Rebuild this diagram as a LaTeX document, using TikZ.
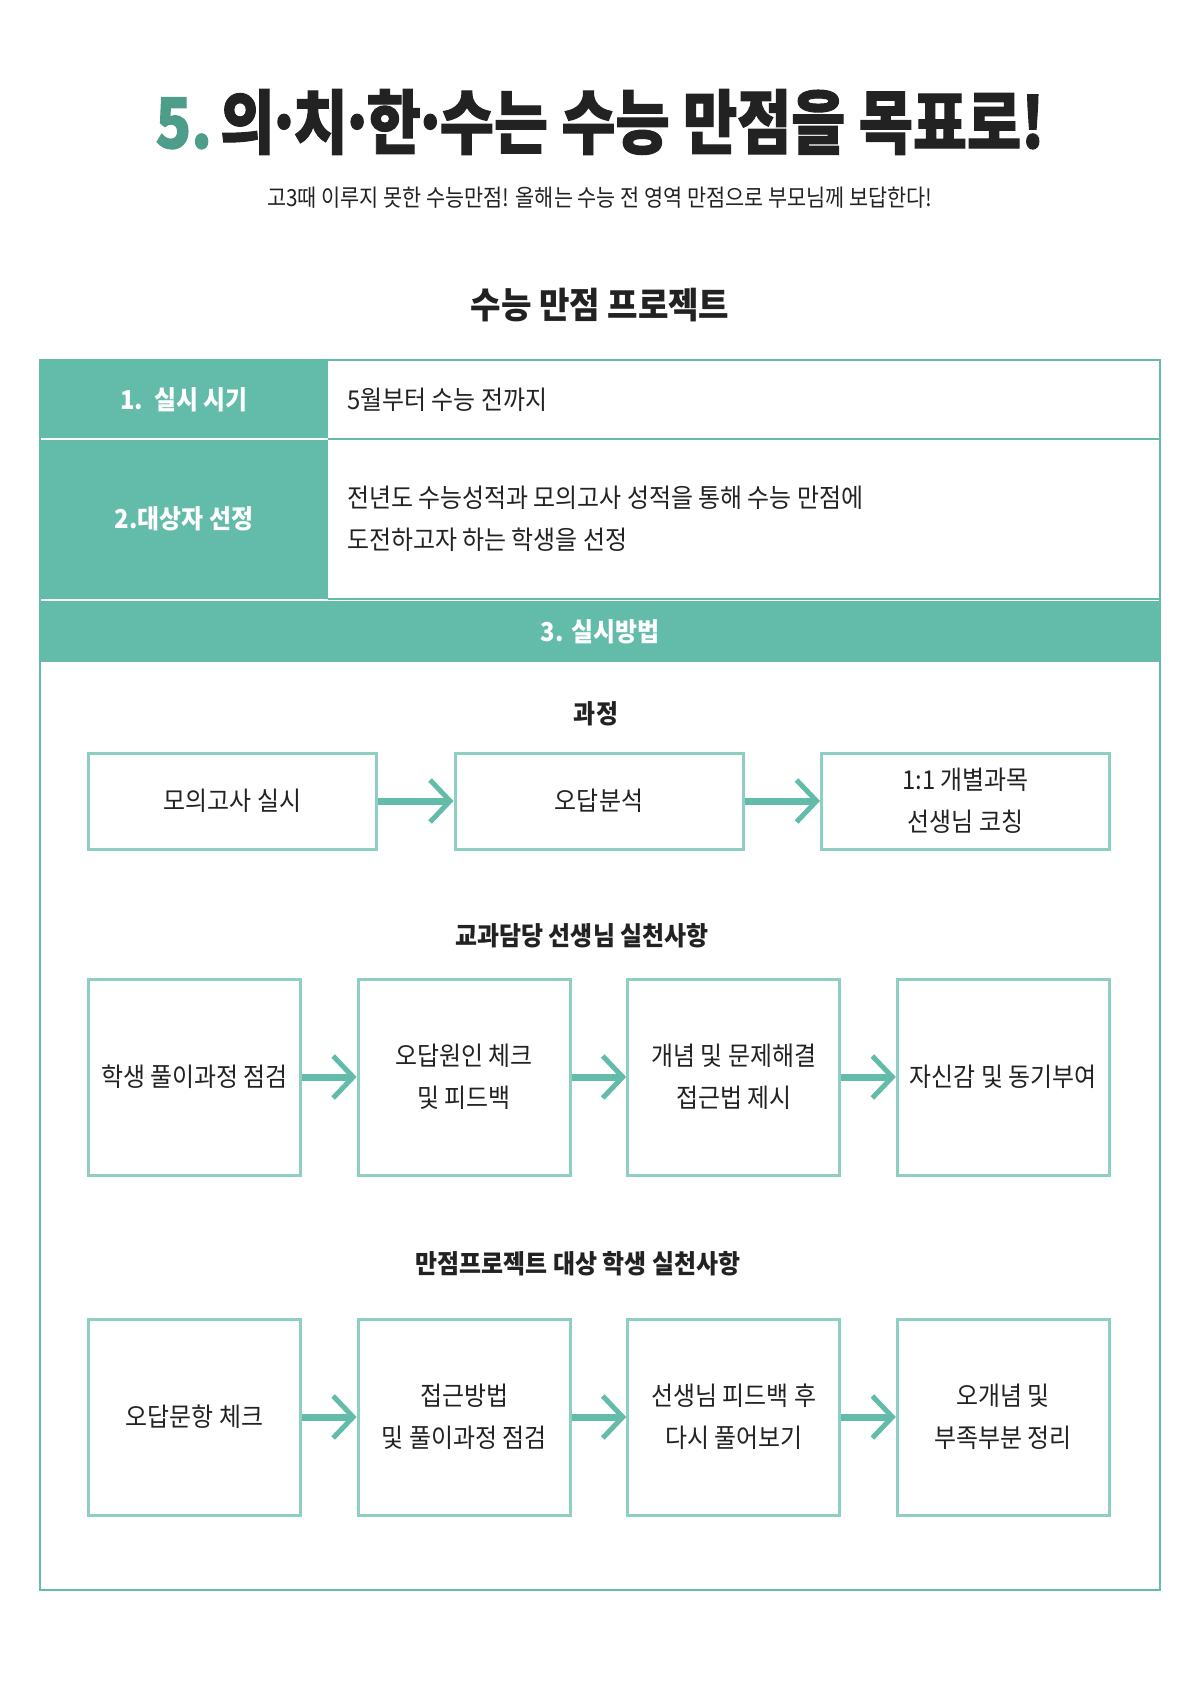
\documentclass[tikz,border=0pt]{standalone}
\usepackage{fontspec}
\setmainfont{Noto Sans CJK KR}[FakeStretch=0.92]
\newfontfamily\titlefont{Noto Sans CJK KR}[FakeStretch=0.84, BoldFeatures={FakeBold=1.4}]
\newfontfamily\handfont{Noto Sans CJK KR}[FakeStretch=0.88]
\newcommand\tdot{\hspace{-0.12em}·\hspace{-0.12em}}
\usetikzlibrary{arrows.meta,positioning}
\definecolor{mint}{HTML}{63BBAA}
\definecolor{mintline}{HTML}{8FCFC3}
\definecolor{mintdark}{HTML}{4E9C8A}
\definecolor{ink}{HTML}{222222}

\begin{document}
\begin{tikzpicture}[
  x=0.5pt, y=-0.5pt,
  font=\fontsize{13}{21}\selectfont,
  text=ink,
  stepbox/.style={draw=mintline, line width=1.5pt, align=center,
    minimum width=144pt, minimum height=48pt, inner sep=0pt},
  tallbox/.style={draw=mintline, line width=1.5pt, align=center,
    minimum width=106pt, minimum height=98pt, inner sep=0pt},
  cell/.style={fill=mint, text=white, inner sep=0pt, minimum width=144pt,
    font=\fontsize{13}{21}\selectfont\bfseries},
  heading/.style={font=\fontsize{13}{21}\selectfont\bfseries},
  tablerule/.style={draw=mint, line width=1pt},
  arr/.style={-{Straight Barb[length=10pt,width=21pt,line width=2.5pt]},
    line width=3.5pt, draw=mint}
]
\useasboundingbox (0,0) rectangle (1200,1705);
\fill[white] (0,0) rectangle (1200,1705);

\node[font=\titlefont\fontsize{35}{38}\selectfont\bfseries] (title) at (600,122)
  {\textcolor{mintdark}{5.}\hspace{0.12em}의\tdot 치\tdot 한\tdot 수는 수능 만점을 목표로!};
\node[font=\handfont\fontsize{11.8}{14}\selectfont] (slogan) at (600,198)
  {고3때 이루지 못한 수능만점! 올해는 수능 전 영역 만점으로 부모님께 보답한다!};
\node[font=\fontsize{18}{22}\selectfont\bfseries] (project) at (600,305) {수능 만점 프로젝트};

\node[cell, minimum height=39.5pt] (when) at (184,399.5) {1.\ \ 실시 시기};
\node[cell, minimum height=80pt] (who) at (184,519) {2.대상자 선정};
\draw[white, line width=1pt] (40,439) -- (328,439);
\node[anchor=west] (whenText) at (340,399.5) {5월부터 수능 전까지};
\node[anchor=west, align=left] (whoText) at (340,519)
  {전년도 수능성적과 모의고사 성적을 통해 수능 만점에\\도전하고자 하는 학생을 선정};
\draw[tablerule] (328,439) -- (1160,439);
\draw[tablerule] (328,599) -- (1160,599);
\node[cell, minimum width=560pt, minimum height=30.5pt] (how) at (600,631.5) {3. 실시방법};
\draw[tablerule] (40,360) rectangle (1160,1590);

\node[heading] (procTitle) at (596,714) {과정};
\node[stepbox, anchor=west] (mock) at (87,801) {모의고사 실시};
\node[stepbox, right=37.75pt of mock] (wrong) {오답분석};
\node[stepbox, right=37.75pt of wrong] (coach) {1:1 개별과목\\선생님 코칭};
\draw[arr] (mock) -- (wrong);
\draw[arr] (wrong) -- (coach);

\node[heading] (teachTitle) at (582,936) {교과담당 선생님 실천사항};
\node[tallbox, anchor=west] (review) at (87,1077) {학생 풀이과정 점검};
\node[tallbox, right=27.3pt of review] (cause) {오답원인 체크\\및 피드백};
\node[tallbox, right=27.3pt of cause] (concept) {개념 및 문제해결\\접근법 제시};
\node[tallbox, right=27.3pt of concept] (motive) {자신감 및 동기부여};
\draw[arr] (review) -- (cause);
\draw[arr] (cause) -- (concept);
\draw[arr] (concept) -- (motive);

\node[heading] (studTitle) at (578,1264) {만점프로젝트 대상 학생 실천사항};
\node[tallbox, anchor=west] (item) at (87,1417) {오답문항 체크};
\node[tallbox, right=27.3pt of item] (approach) {접근방법\\및 풀이과정 점검};
\node[tallbox, right=27.3pt of approach] (retry) {선생님 피드백 후\\다시 풀어보기};
\node[tallbox, right=27.3pt of retry] (gap) {오개념 및\\부족부분 정리};
\draw[arr] (item) -- (approach);
\draw[arr] (approach) -- (retry);
\draw[arr] (retry) -- (gap);
\end{tikzpicture}
\end{document}
